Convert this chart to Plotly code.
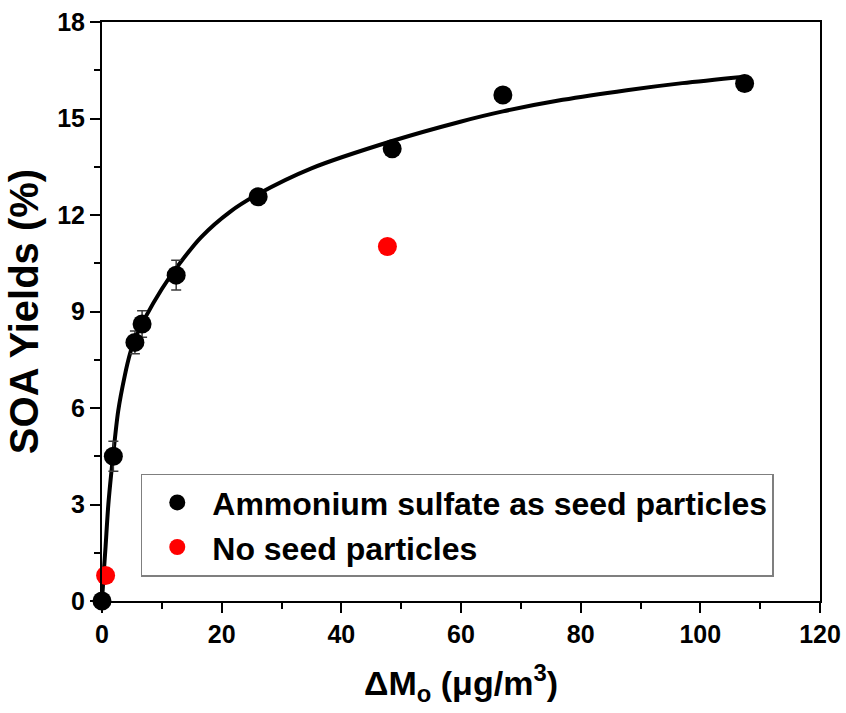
import plotly.graph_objects as go

# Ammonium sulfate seeded experiments
seed_mo = [0.0, 1.9, 5.5, 6.7, 12.4, 26.1, 48.5, 67.0, 107.4]
seed_yield = [0.0, 4.5, 8.04, 8.61, 10.13, 12.57, 14.06, 15.73, 16.09]
seed_err = [0.0, 0.47, 0.35, 0.41, 0.46, 0.0, 0.0, 0.0, 0.0]

# Unseeded experiments
noseed_mo = [0.6, 47.7]
noseed_yield = [0.79, 11.02]

# Yield curve fitted to the seeded data
fit_mo = [0.0, 0.3, 0.6, 1.06, 1.9, 2.7, 3.8, 4.7, 5.5, 7.2, 10.0, 12.4, 16.5,
          21.4, 26.1, 35.0, 48.5, 59.9, 67.0, 77.0, 87.7, 97.0, 107.4]
fit_yield = [0.0, 0.9, 1.7, 3.0, 4.6, 5.9, 7.0, 7.7, 8.15, 8.8, 9.7, 10.35, 11.3,
             12.1, 12.65, 13.45, 14.3, 14.9, 15.22, 15.58, 15.88, 16.1, 16.3]

x_ticks = [0, 20, 40, 60, 80, 100, 120]
y_ticks = [0, 3, 6, 9, 12, 15, 18]

FONT = "Liberation Sans, Arial, sans-serif"

fig = go.Figure()

fig.add_trace(go.Scatter(
    x=fit_mo, y=fit_yield, mode="lines",
    line=dict(color="black", width=4, shape="spline", smoothing=0.8),
    showlegend=False, hoverinfo="skip", cliponaxis=False,
))

fig.add_trace(go.Scatter(
    x=seed_mo, y=seed_yield, mode="markers",
    name="Ammonium sulfate as seed particles",
    marker=dict(color="black", size=19),
    error_y=dict(type="data", array=seed_err, visible=True,
                 color="#3a3a3a", thickness=1.5, width=5),
    cliponaxis=False,
))

fig.add_trace(go.Scatter(
    x=noseed_mo, y=noseed_yield, mode="markers",
    name="No seed particles",
    marker=dict(color="#ff0000", size=19),
    cliponaxis=False,
))

axis_common = dict(
    showgrid=False, zeroline=False,
    showline=True, linecolor="black", linewidth=2, mirror=True,
    ticks="outside", ticklen=10, tickwidth=2, tickcolor="black",
    tickfont=dict(family=FONT, size=25, color="black", weight="bold"),
    automargin=False,
)

fig.update_xaxes(
    range=[0, 120], tickvals=x_ticks,
    minor=dict(dtick=10, ticks="outside", ticklen=6, tickwidth=2, tickcolor="black"),
    title=dict(text="ΔM<sub>o</sub> (μg/m<sup>3</sup>)",
               font=dict(family=FONT, size=34, color="black", weight="bold"),
               standoff=24),
    **axis_common,
)
fig.update_yaxes(
    range=[0, 18], tickvals=y_ticks,
    minor=dict(dtick=1.5, ticks="outside", ticklen=6, tickwidth=2, tickcolor="black"),
    title=dict(text="SOA Yields (%)",
               font=dict(family=FONT, size=40, color="black", weight="bold"),
               standoff=6),
    **axis_common,
)

fig.update_layout(
    width=846, height=713,
    margin=dict(l=102, r=26, t=22, b=112),
    paper_bgcolor="white", plot_bgcolor="white",
    font=dict(family=FONT, color="black"),
    legend=dict(
        x=0.054, y=0.22, xanchor="left", yanchor="top",
        bgcolor="white", bordercolor="#7f7f7f", borderwidth=1.5,
        font=dict(family=FONT, size=32, color="black", weight="bold"),
        itemwidth=60,
    ),
)

fig.write_html("out.html")
